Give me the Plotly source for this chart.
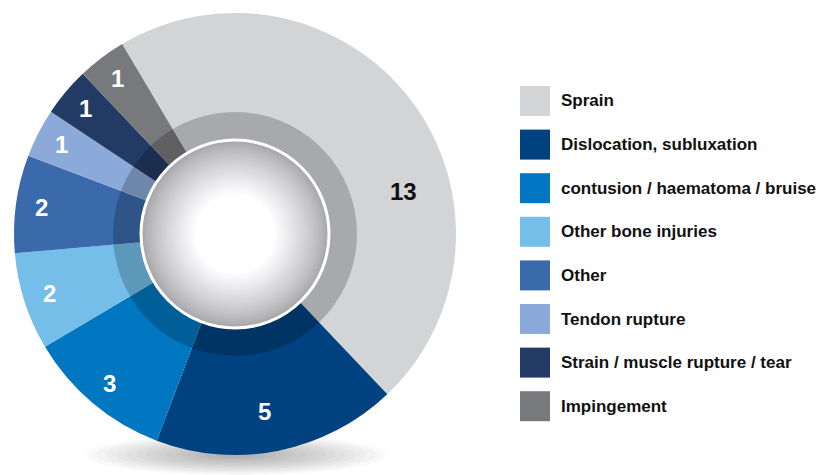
import plotly.graph_objects as go
import math

# ---- data ----
categories = ["Sprain", "Dislocation, subluxation", "contusion / haematoma / bruise",
              "Other bone injuries", "Other", "Tendon rupture",
              "Strain / muscle rupture / tear", "Impingement"]
values = [13, 5, 3, 2, 2, 1, 1, 1]
colors = ["#d3d4d6", "#00417f", "#0077c0", "#74bee9", "#3a6aab", "#8ba9d9", "#233a65", "#78797c"]
label_colors = ["#111111", "white", "white", "white", "white", "white", "white", "white"]
label_angle_shift = [23, 2, 0, 0, 0, 0, 0, 0]
label_radius_shift = [-21, -15, 0, 0, 0, 0, 0, 0]

W, H = 830, 475
CX, CY = 235, 234          # donut centre (px)
R_OUT, R_RING, R_HOLE = 221, 122, 94
ROT = -30.7                # start angle, degrees clockwise from 12 o'clock
LABEL_R = 195


def px(x):
    return x / W


def py(y):
    return 1 - y / H


def dom(r):
    return dict(x=[px(CX - r), px(CX + r)], y=[py(CY + r), py(CY - r)])


fig = go.Figure()
fig.add_trace(go.Pie(
    labels=categories, values=values, sort=False, direction="clockwise",
    rotation=ROT, hole=R_HOLE / R_OUT, domain=dom(R_OUT),
    marker=dict(colors=colors, line=dict(width=0)),
    textinfo="none", showlegend=False, hoverinfo="label+value"))
# darker inner band
fig.add_trace(go.Pie(
    labels=categories, values=values, sort=False, direction="clockwise",
    rotation=ROT, hole=R_HOLE / R_RING, domain=dom(R_RING),
    marker=dict(colors=["rgba(0,0,0,0.2)"] * len(values), line=dict(width=0)),
    textinfo="none", showlegend=False, hoverinfo="skip"))

total = sum(values)
cum = 0
annotations = []
for v, c, shift, rs in zip(values, label_colors, label_angle_shift, label_radius_shift):
    mid = ROT + (cum + v / 2) / total * 360 + shift
    cum += v
    a = math.radians(mid)
    r = LABEL_R + rs
    x = CX + r * math.sin(a)
    y = CY - r * math.cos(a)
    annotations.append(dict(x=px(x), y=py(y), xref="paper", yref="paper", text=str(v),
                            showarrow=False, xanchor="center", yanchor="middle",
                            font=dict(size=24, color=c, family="Liberation Sans, Arial, sans-serif",
                                      weight="bold")))

shapes = []
# shadow under donut
SX, SY, SW, SH = 236, 455, 150, 20
for i in range(14):
    f = 1 - i / 15
    shapes.append(dict(type="circle", xref="paper", yref="paper", layer="below",
                       x0=px(SX - SW * f), x1=px(SX + SW * f),
                       y0=py(SY + SH * f), y1=py(SY - SH * f),
                       fillcolor="rgba(0,0,0,0.025)", line=dict(width=0)))

# gradient hole
steps = 26
for i in range(steps):
    t = i / (steps - 1)
    r = R_HOLE - t * (R_HOLE - 40)
    g = int(166 + (255 - 166) * (t ** 0.8))
    shapes.append(dict(type="circle", xref="paper", yref="paper",
                       x0=px(CX - r), x1=px(CX + r), y0=py(CY + r), y1=py(CY - r),
                       fillcolor=f"rgb({g},{g},{min(255, g + 2)})", line=dict(width=0)))
shapes.append(dict(type="circle", xref="paper", yref="paper",
                   x0=px(CX - R_HOLE), x1=px(CX + R_HOLE), y0=py(CY + R_HOLE), y1=py(CY - R_HOLE),
                   fillcolor="rgba(0,0,0,0)", line=dict(width=3, color="white")))

# legend
LX, LY0, LSTEP, SQ = 520, 101, 43.6, 30
for i, (cat, col) in enumerate(zip(categories, colors)):
    yc = LY0 + i * LSTEP
    shapes.append(dict(type="rect", xref="paper", yref="paper",
                       x0=px(LX), x1=px(LX + SQ), y0=py(yc + SQ / 2), y1=py(yc - SQ / 2),
                       fillcolor=col, line=dict(width=0)))
    annotations.append(dict(x=px(LX + 39), y=py(yc), xref="paper", yref="paper", text=cat,
                            showarrow=False, xanchor="left", yanchor="middle",
                            font=dict(size=17, color="#111111",
                                      family="Liberation Sans, Arial, sans-serif", weight="bold")))

fig.update_layout(width=W, height=H, margin=dict(l=0, r=0, t=0, b=0),
                  paper_bgcolor="white", plot_bgcolor="white",
                  shapes=shapes, annotations=annotations, showlegend=False)
fig.write_html("out.html", config={"displayModeBar": False},
               post_script="document.body.style.margin='0';document.body.style.padding='0';")
